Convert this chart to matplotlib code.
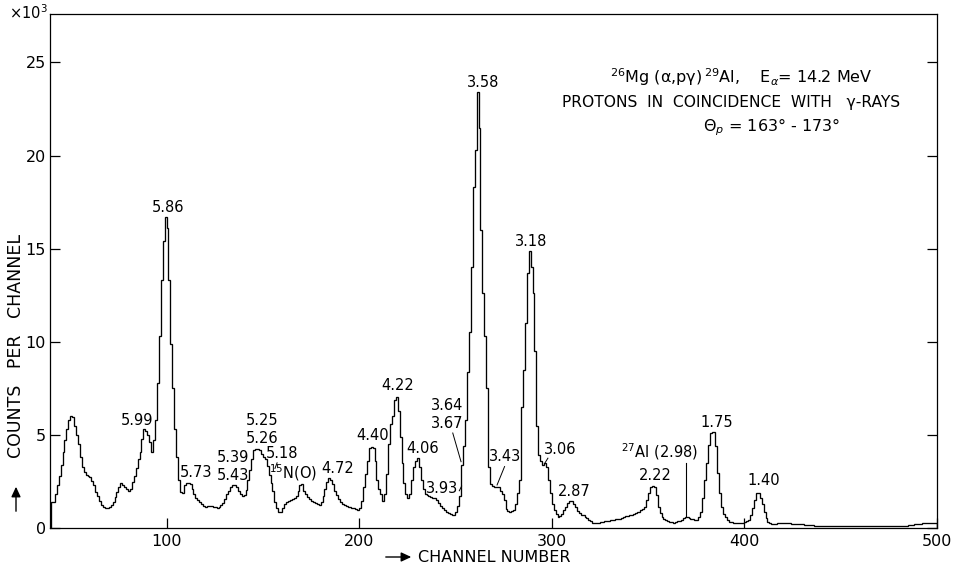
import matplotlib
matplotlib.use("Agg")
import matplotlib.pyplot as plt
import numpy as np

# ---- data: counts per channel (x10^3), channels 40..499 ----
first_channel = 40
counts = [
    1.4, 1.41, 1.8, 2.3, 2.8, 3.4, 4.1, 4.7, 5.3, 5.8,
    6.0, 5.95, 5.5, 5.0, 4.5, 3.8, 3.3, 3.0, 2.85, 2.8,
    2.72, 2.55, 2.3, 1.95, 1.7, 1.45, 1.25, 1.15, 1.1, 1.1,
    1.15, 1.22, 1.4, 1.68, 1.95, 2.2, 2.4, 2.3, 2.2, 2.1,
    2.0, 2.1, 2.45, 2.8, 3.2, 3.7, 4.1, 4.8, 5.3, 5.2,
    5.0, 4.6, 4.1, 4.7, 5.8, 7.8, 10.3, 13.3, 15.4, 16.7,
    16.1, 13.3, 9.9, 7.5, 5.3, 3.8, 2.6, 1.95, 1.86, 2.3,
    2.4, 2.44, 2.35, 2.1, 1.8, 1.6, 1.5, 1.4, 1.3, 1.18,
    1.15, 1.18, 1.2, 1.18, 1.15, 1.12, 1.1, 1.15, 1.25, 1.35,
    1.55, 1.8, 2.0, 2.2, 2.3, 2.3, 2.2, 2.0, 1.85, 1.7,
    1.75, 2.05, 2.6, 3.1, 3.7, 4.2, 4.23, 4.23, 4.2, 3.95,
    3.8, 3.7, 3.35, 2.85, 2.4, 2.0, 1.4, 1.1, 0.85, 0.85,
    1.1, 1.3, 1.4, 1.45, 1.5, 1.55, 1.6, 1.7, 2.0, 2.3,
    2.37, 2.0, 1.8, 1.65, 1.55, 1.45, 1.4, 1.35, 1.3, 1.25,
    1.4, 1.7, 2.1, 2.45, 2.7, 2.6, 2.35, 2.0, 1.75, 1.55,
    1.4, 1.3, 1.25, 1.2, 1.15, 1.12, 1.1, 1.06, 1.0, 0.97,
    1.1, 1.45, 2.2, 2.9, 3.6, 4.3, 4.37, 4.28, 3.6, 2.6,
    2.1, 1.85, 1.45, 1.8, 2.9, 4.5, 5.6, 6.0, 6.88, 7.06,
    6.3, 4.9, 3.5, 2.4, 1.8, 1.6, 1.85, 2.6, 3.3, 3.6,
    3.75, 3.3, 2.6, 2.1, 1.85, 1.75, 1.7, 1.68, 1.62, 1.6,
    1.5, 1.35, 1.2, 1.05, 0.97, 0.85, 0.8, 0.75, 0.7, 0.72,
    0.88, 1.2, 1.7, 3.4, 4.4, 5.8, 8.4, 10.5, 14.0, 18.3,
    20.3, 23.4, 21.5, 16.0, 12.6, 10.3, 7.5, 3.3, 2.35, 2.25,
    2.22, 2.22, 2.2, 2.0, 1.8, 1.5, 1.0, 0.9, 0.88, 0.9,
    0.97, 1.3, 1.87, 2.6, 6.5, 8.5, 11.0, 13.7, 14.9, 14.0,
    12.6, 9.5, 5.5, 3.9, 3.6, 3.4, 3.48, 3.3, 2.6, 1.9,
    1.3, 0.97, 0.75, 0.61, 0.65, 0.75, 0.95, 1.15, 1.33, 1.45,
    1.47, 1.3, 1.15, 0.9, 0.8, 0.72, 0.7, 0.6, 0.52, 0.45,
    0.35, 0.29, 0.26, 0.25, 0.27, 0.3, 0.33, 0.35, 0.38, 0.4,
    0.43, 0.44, 0.45, 0.47, 0.47, 0.5, 0.55, 0.6, 0.62, 0.65,
    0.68, 0.7, 0.75, 0.8, 0.85, 0.88, 0.95, 1.0, 1.15, 1.5,
    1.9, 2.2, 2.26, 2.2, 1.77, 1.15, 0.8, 0.61, 0.5, 0.43,
    0.38, 0.33, 0.3, 0.29, 0.32, 0.36, 0.39, 0.45, 0.55, 0.61,
    0.58, 0.52, 0.5, 0.47, 0.45, 0.43, 0.6, 0.85, 1.6, 2.6,
    3.5, 4.46, 5.12, 5.18, 5.18, 4.4, 2.94, 1.87, 1.15, 0.75,
    0.6, 0.45, 0.34, 0.3, 0.27, 0.25, 0.25, 0.25, 0.25, 0.25,
    0.3, 0.35, 0.43, 0.7, 1.1, 1.5, 1.9, 1.9, 1.6, 1.3,
    0.88, 0.55, 0.34, 0.27, 0.22, 0.21, 0.22, 0.25, 0.28, 0.29,
    0.28, 0.27, 0.26, 0.25, 0.24, 0.23, 0.22, 0.22, 0.21, 0.2,
    0.19, 0.18, 0.17, 0.16, 0.15, 0.14, 0.13, 0.13, 0.12, 0.11,
    0.1, 0.1, 0.1, 0.1, 0.1, 0.1, 0.1, 0.1, 0.1, 0.1,
    0.1, 0.1, 0.1, 0.1, 0.1, 0.1, 0.1, 0.1, 0.1, 0.1,
    0.1, 0.1, 0.1, 0.1, 0.1, 0.1, 0.1, 0.1, 0.1, 0.1,
    0.1, 0.1, 0.1, 0.1, 0.1, 0.1, 0.1, 0.1, 0.1, 0.1,
    0.1, 0.1, 0.11, 0.12, 0.13, 0.14, 0.15, 0.17, 0.19, 0.2,
    0.22, 0.24, 0.26, 0.28, 0.29, 0.29, 0.29, 0.29, 0.29, 0.29,
]

# peak labels: (text, channel, counts)
peak_labels = [
    ("5.86", 101.0, 17.2),
    ("3.58", 264.4, 23.9),
    ("3.18", 289.3, 15.4),
    ("5.99", 84.6, 5.75),
    ("5.73", 115.1, 2.98),
    ("5.39\n5.43", 134.4, 3.3),
    ("5.25\n5.26", 149.7, 5.3),
    ("5.18", 160.1, 3.98),
    ("4.72", 188.7, 3.17),
    ("4.40", 206.9, 4.95),
    ("4.22", 219.8, 7.63),
    ("4.06", 232.8, 4.25),
    ("3.93", 243.2, 2.1),
    ("3.64\n3.67", 245.8, 6.08),
    ("3.43", 275.6, 3.83),
    ("3.06", 304.6, 4.19),
    ("2.87", 311.6, 1.95),
    ("2.22", 353.9, 2.8),
    ("1.75", 385.6, 5.67),
    ("1.40", 409.8, 2.53),
]

# leader lines: ((c0, y0), (c1, y1))
leaders = [
    ((248.6, 5.1), (252.9, 3.56)),
    ((275.5, 3.3), (271.6, 2.31)),
    ((298.0, 3.75), (296.2, 3.45)),
    ((157.4, 3.5), (156.3, 3.2)),
    ((252.0, 2.0), (253.2, 2.25)),
]

al_marker = (369.6, 0.62, 3.5)   # channel, from, to

x_ticks = [100, 200, 300, 400, 500]
y_ticks = [0, 5, 10, 15, 20, 25]

# ---- figure ----
W, H = 958, 565
fig = plt.figure(figsize=(W / 100, H / 100), dpi=100)
ax = fig.add_axes([50 / W, 1 - 528 / H, (937 - 50) / W, (528 - 14) / H])

edges = np.arange(first_channel, first_channel + len(counts) + 1)
ax.stairs(counts, edges, color="black", linewidth=0.95)

ax.set_xlim(39.5, 500)
ax.set_ylim(0, 27.6)

for sp in ax.spines.values():
    sp.set_linewidth(0.9)
    sp.set_color("black")

ax.set_xticks(x_ticks)
ax.set_xticklabels([str(t) for t in x_ticks])
ax.set_yticks(y_ticks)
ax.set_yticklabels([str(t) for t in y_ticks])
ax.tick_params(axis="both", direction="in", length=7, width=0.9,
               labelsize=11.5, colors="black")
ax.tick_params(axis="y", right=True, pad=3)
ax.tick_params(axis="x", pad=4)

fs = 10.5
for txt, c, y in peak_labels:
    ax.text(c, y, txt, ha="center", va="center", fontsize=fs,
            linespacing=1.25)

ax.text(165.7, 2.96, r"$^{15}$N(O)", ha="center", va="center", fontsize=fs)
ax.text(356.1, 4.09, r"$^{27}$Al (2.98)", ha="center", va="center", fontsize=fs)

for (c0, y0), (c1, y1) in leaders:
    ax.plot([c0, c1], [y0, y1], color="black", linewidth=0.7)
ax.plot([al_marker[0], al_marker[0]], [al_marker[1], al_marker[2]],
        color="black", linewidth=0.8)

# title block
fig.text(741 / W, 1 - 77 / H,
         r"$^{26}$Mg (α,pγ)$\,^{29}$Al,    E$_{α}$= 14.2 MeV",
         ha="center", va="center", fontsize=11.5)
fig.text(731 / W, 1 - 103 / H, "PROTONS  IN  COINCIDENCE  WITH   γ-RAYS",
         ha="center", va="center", fontsize=11.2)
fig.text(772 / W, 1 - 127 / H, r"Θ$_{p}$ = 163° - 173°",
         ha="center", va="center", fontsize=11.5)

# x10^3 marker
fig.text(28 / W, 1 - 13 / H, r"×10$^{3}$", ha="center", va="center",
         fontsize=10.5)

# axis labels with arrows
fig.text(418 / W, 1 - 557 / H, "CHANNEL NUMBER", ha="left", va="center",
         fontsize=11.5)
fig.add_artist(matplotlib.patches.FancyArrowPatch(
    (383 / W, 1 - 557 / H), (414 / W, 1 - 557 / H),
    transform=fig.transFigure, arrowstyle="-|>,head_length=6,head_width=2.8",
    color="black", linewidth=1.0, mutation_scale=1))
fig.text(16 / W, 1 - 346 / H, "COUNTS   PER   CHANNEL", ha="center",
         va="center", rotation=90, fontsize=12.5)
fig.add_artist(matplotlib.patches.FancyArrowPatch(
    (16 / W, 1 - 514 / H), (16 / W, 1 - 484 / H),
    transform=fig.transFigure, arrowstyle="-|>,head_length=6,head_width=2.8",
    color="black", linewidth=1.0, mutation_scale=1))

fig.savefig("out.png", dpi=100)
